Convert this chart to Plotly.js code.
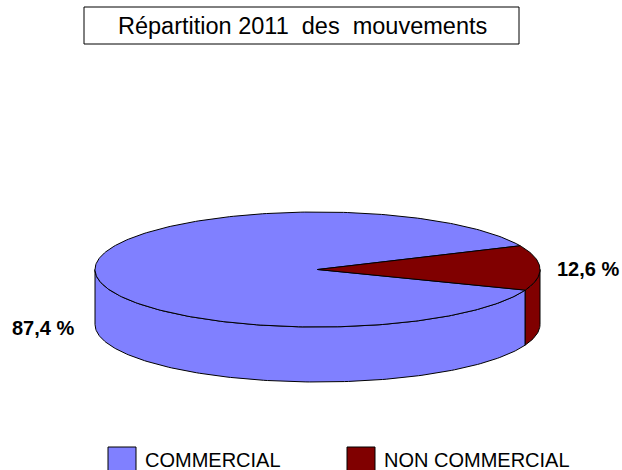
<!DOCTYPE html>
<html>
<head>
<meta charset="utf-8">
<script src="https://cdn.plot.ly/plotly-3.0.1.min.js"></script>
<style>html,body{margin:0;padding:0;background:#fff}#chart{width:622px;height:470px}</style>
</head>
<body>
<div id="chart"></div>
<script>
// ---- data ----
const categories = ['COMMERCIAL', 'NON COMMERCIAL'];
const shares = [87.4, 12.6];
const sliceColors = ['#8080FF', '#800000'];
const chartTitle = 'Répartition 2011&nbsp;&nbsp;des&nbsp;&nbsp;mouvements';

// ---- 3D pie geometry (layout, in pixel-like axis units) ----
const cx = 317.5, cy = 269.5, rx = 222.5, ry = 57.5, depth = 55;
const startDeg = 21; // first slice start, clockwise on screen
const FONT = 'Liberation Sans, Arial, sans-serif';

const total = shares.reduce((a, b) => a + b, 0);
const rad = d => d * Math.PI / 180;
function arc(a0, a1, dy) {
  const pts = { x: [], y: [] };
  const n = Math.max(2, Math.ceil(Math.abs(a1 - a0) / 1));
  for (let i = 0; i <= n; i++) {
    const a = rad(a0 + (a1 - a0) * i / n);
    pts.x.push(cx + rx * Math.cos(a));
    pts.y.push(cy + ry * Math.sin(a) + dy);
  }
  return pts;
}

const slices = [];
let acc = startDeg;
shares.forEach((v, i) => {
  const span = v / total * 360;
  slices.push({ a0: acc, a1: acc + span, color: sliceColors[i] });
  acc += span;
});

const traces = [];
const baseLine = { color: '#000', width: 1 };

// front side walls (visible where theta in [0,180] mod 360)
slices.forEach(s => {
  for (let k = -1; k <= 1; k++) {
    const lo = Math.max(s.a0, 360 * k), hi = Math.min(s.a1, 360 * k + 180);
    if (hi > lo) {
      const top = arc(lo, hi, 0), bot = arc(hi, lo, depth);
      traces.push({
        type: 'scatter', mode: 'lines', fill: 'toself', fillcolor: s.color,
        x: top.x.concat(bot.x, [top.x[0]]), y: top.y.concat(bot.y, [top.y[0]]),
        line: baseLine, hoverinfo: 'skip', showlegend: false
      });
    }
  }
});

// top faces
slices.forEach(s => {
  const a = arc(s.a0, s.a1, 0);
  traces.push({
    type: 'scatter', mode: 'lines', fill: 'toself', fillcolor: s.color,
    x: [cx].concat(a.x, [cx]), y: [cy].concat(a.y, [cy]),
    line: baseLine, hoverinfo: 'skip', showlegend: false
  });
});

const fmt = v => v.toFixed(1).replace('.', ',') + ' %';
const annotations = [
  { x: 302, y: 26, text: chartTitle, showarrow: false, xref: 'x', yref: 'y',
    font: { family: FONT, size: 23.5, color: '#000' } }
];
// data labels
slices.forEach((s, i) => {
  const mid = rad((s.a0 + s.a1) / 2);
  const left = Math.cos(mid) < 0;
  annotations.push({
    x: left ? 76 : 555, y: left ? 328 : 269, xanchor: left ? 'right' : 'left',
    text: '<b>' + fmt(shares[i]) + '</b>', showarrow: false, xref: 'x', yref: 'y',
    font: { family: FONT, size: 20, color: '#000' }
  });
});

const shapes = [
  { type: 'rect', xref: 'x', yref: 'y', x0: 84, x1: 519, y0: 7, y1: 44,
    line: { color: '#000', width: 1 }, fillcolor: '#fff', layer: 'below' }
];
// legend
const legX = [108, 347];
categories.forEach((c, i) => {
  shapes.push({ type: 'rect', xref: 'x', yref: 'y', x0: legX[i], x1: legX[i] + 28, y0: 447, y1: 474,
    line: { color: '#000', width: 1 }, fillcolor: sliceColors[i] });
  annotations.push({ x: legX[i] + 35, y: 460, xanchor: 'left', text: c, showarrow: false,
    xref: 'x', yref: 'y', font: { family: FONT, size: 20, color: '#000' } });
});

const layout = {
  width: 622, height: 470, margin: { l: 0, r: 0, t: 0, b: 0 },
  paper_bgcolor: '#fff', plot_bgcolor: '#fff',
  xaxis: { range: [0, 622], visible: false, fixedrange: true },
  yaxis: { range: [470, 0], visible: false, fixedrange: true },
  showlegend: false, annotations: annotations, shapes: shapes
};

Plotly.newPlot('chart', traces, layout, { staticPlot: true, displayModeBar: false });
</script>
</body>
</html>
